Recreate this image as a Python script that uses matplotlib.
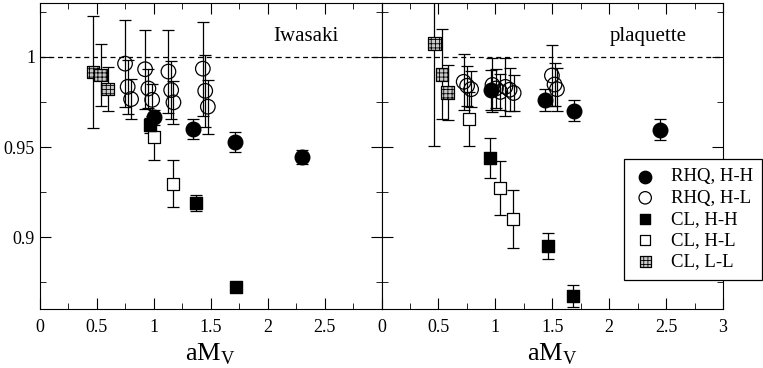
import numpy as np
import matplotlib.pyplot as plt
from matplotlib.ticker import MultipleLocator

plt.rcParams['font.family'] = ['Liberation Serif', 'DejaVu Serif']
plt.rcParams['hatch.linewidth'] = 0.6

# ---------------- dados: Iwasaki ----------------
rhq_hh_x_iw = [1.00, 1.34, 1.715, 2.30]
rhq_hh_y_iw = [0.9665, 0.960, 0.9527, 0.9444]
rhq_hh_e_iw = [0.004, 0.0055, 0.0055, 0.004]

rhq_hl_x_iw = [0.747, 0.77, 0.80, 0.923, 0.952, 0.985, 1.128, 1.152, 1.172, 1.43, 1.451, 1.474]
rhq_hl_y_iw = [0.9963, 0.9834, 0.9766, 0.9932, 0.9825, 0.9762, 0.9919, 0.9816, 0.9748, 0.9935, 0.9812, 0.9724]
rhq_hl_e_iw = [0.024, 0.015, 0.011, 0.022, 0.011, 0.009, 0.023, 0.016, 0.012, 0.026, 0.02, 0.015]

cl_hh_x_iw = [0.97, 1.372, 1.718]
cl_hh_y_iw = [0.962, 0.919, 0.8722]
cl_hh_e_iw = [0.004, 0.0044, 0.002]

cl_hl_x_iw = [0.997, 1.172]
cl_hl_y_iw = [0.9554, 0.9297]
cl_hl_e_iw = [0.0125, 0.013]

cl_ll_x_iw = [0.465, 0.532, 0.594]
cl_ll_y_iw = [0.9917, 0.990, 0.9822]
cl_ll_e_iw = [0.031, 0.017, 0.012]

# ---------------- dados: plaquette ----------------
rhq_hh_x_pl = [0.965, 1.433, 1.693, 2.447]
rhq_hh_y_pl = [0.9816, 0.976, 0.9702, 0.9597]
rhq_hh_e_pl = [0.011, 0.006, 0.006, 0.006]

rhq_hl_x_pl = [0.722, 0.752, 0.787, 0.975, 1.005, 1.044, 1.088, 1.125, 1.161, 1.497, 1.52, 1.541]
rhq_hl_y_pl = [0.9862, 0.984, 0.9821, 0.9845, 0.9825, 0.9806, 0.9834, 0.9818, 0.980, 0.9897, 0.9847, 0.9821]
rhq_hl_e_pl = [0.0156, 0.011, 0.01, 0.015, 0.011, 0.01, 0.016, 0.012, 0.01, 0.017, 0.012, 0.012]

cl_hh_x_pl = [0.95, 1.462, 1.68]
cl_hh_y_pl = [0.9438, 0.895, 0.8674]
cl_hh_e_pl = [0.011, 0.007, 0.006]

cl_hl_x_pl = [0.772, 1.038, 1.155]
cl_hl_y_pl = [0.9656, 0.9273, 0.910]
cl_hl_e_pl = [0.015, 0.015, 0.016]

cl_ll_x_pl = [0.465, 0.532, 0.582]
cl_ll_y_pl = [1.0074, 0.9904, 0.9803]
cl_ll_e_pl = [0.057, 0.025, 0.0152]

labels = ["RHQ, H-H", "RHQ, H-L", "CL, H-H", "CL, H-L", "CL, L-L"]

fig, (ax1, ax2) = plt.subplots(1, 2, figsize=(7.63, 3.68), dpi=100, sharey=True)
fig.subplots_adjust(left=0.0524, right=0.9476, top=0.992, bottom=0.16, wspace=0)

def painel(ax, d, titulo, xmax):
    eb = dict(fmt='none', ecolor='black', elinewidth=0.9, capsize=4.5, capthick=0.9, zorder=1)
    for (x, y, e) in d:
        ax.errorbar(x, y, yerr=e, **eb)
    h = []
    h.append(ax.scatter(d[0][0], d[0][1], s=110, marker='o', facecolor='black', edgecolor='black', zorder=4))
    h.append(ax.scatter(d[1][0], d[1][1], s=110, marker='o', facecolor='none', edgecolor='black', linewidths=0.9, zorder=3))
    h.append(ax.scatter(d[2][0], d[2][1], s=85, marker='s', facecolor='black', edgecolor='black', zorder=4))
    h.append(ax.scatter(d[3][0], d[3][1], s=85, marker='s', facecolor='white', edgecolor='black', linewidths=0.9, zorder=3))
    h.append(ax.scatter(d[4][0], d[4][1], s=85, marker='s', facecolor='#c8c8c8', edgecolor='black',
                        linewidths=0.9, hatch='++++', zorder=3))
    ax.axhline(1.0, color='black', linestyle=(0, (4, 3)), linewidth=0.9, zorder=0)
    ax.set_xlim(0, xmax)
    ax.set_ylim(0.86, 1.03)
    ax.xaxis.set_major_locator(MultipleLocator(0.5))
    ax.xaxis.set_minor_locator(MultipleLocator(0.25))
    ax.yaxis.set_major_locator(MultipleLocator(0.05))
    ax.yaxis.set_minor_locator(MultipleLocator(0.025))
    ax.tick_params(which='both', direction='in', top=True, right=True, labelsize=13)
    ax.tick_params(which='major', length=8)
    ax.tick_params(which='minor', length=4)
    ax.tick_params(axis='x', pad=7)
    ax.set_xlabel(r'aM$_\mathregular{V}$', fontsize=19, labelpad=4)
    ax.text(0.78, 0.89, titulo, transform=ax.transAxes, fontsize=15, ha='center', va='center')
    return h

h = painel(ax1, [(rhq_hh_x_iw, rhq_hh_y_iw, rhq_hh_e_iw), (rhq_hl_x_iw, rhq_hl_y_iw, rhq_hl_e_iw),
                 (cl_hh_x_iw, cl_hh_y_iw, cl_hh_e_iw), (cl_hl_x_iw, cl_hl_y_iw, cl_hl_e_iw),
                 (cl_ll_x_iw, cl_ll_y_iw, cl_ll_e_iw)], "Iwasaki", 2.999)
painel(ax2, [(rhq_hh_x_pl, rhq_hh_y_pl, rhq_hh_e_pl), (rhq_hl_x_pl, rhq_hl_y_pl, rhq_hl_e_pl),
             (cl_hh_x_pl, cl_hh_y_pl, cl_hh_e_pl), (cl_hl_x_pl, cl_hl_y_pl, cl_hl_e_pl),
             (cl_ll_x_pl, cl_ll_y_pl, cl_ll_e_pl)], "plaquette", 3)

ax1.set_yticks([0.9, 0.95, 1.0])
ax1.set_yticklabels(["0.9", "0.95", "1"])
ax1.set_xticks([0, 0.5, 1, 1.5, 2, 2.5])
ax1.set_xticklabels(["0", "0.5", "1", "1.5", "2", "2.5"])
ax2.set_xticks([0, 0.5, 1, 1.5, 2, 2.5, 3])
ax2.set_xticklabels(["0", "0.5", "1", "1.5", "2", "2.5", "3"])
ax2.tick_params(labelleft=False)

leg = fig.legend(h, labels, loc='upper right', bbox_to_anchor=(0.9987, 0.568), fontsize=13.5,
                 frameon=True, fancybox=False, edgecolor='black', framealpha=1, handletextpad=0.7,
                 borderpad=0.5, borderaxespad=0, labelspacing=0.22, handlelength=1.3, markerscale=0.85)
leg.get_frame().set_linewidth(0.9)
leg.set_zorder(10)

plt.savefig("out.png", dpi=100)
